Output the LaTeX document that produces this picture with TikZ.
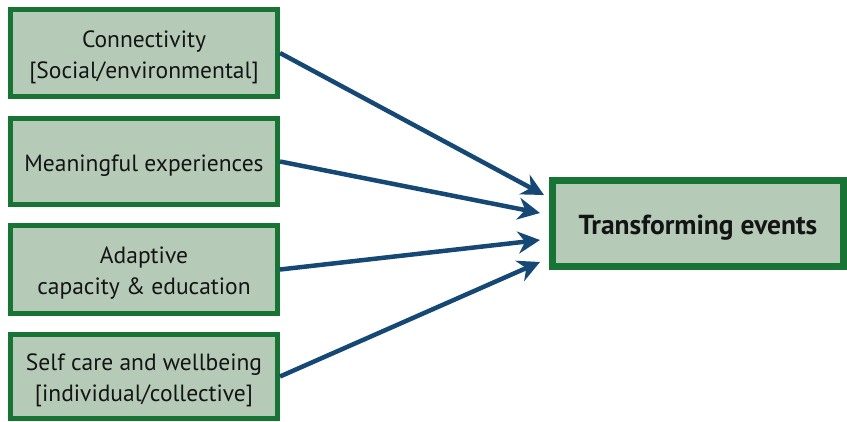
\documentclass[tikz,border=0pt]{standalone}
\usepackage{fontspec}
\setmainfont{PT Sans}
\usetikzlibrary{arrows.meta,calc}
\definecolor{boxfill}{RGB}{181,203,184}
\definecolor{boxline}{RGB}{24,116,52}
\definecolor{arrowblue}{RGB}{22,72,118}
\definecolor{txt}{RGB}{20,20,20}
\tikzset{
  srcbox/.style={draw=boxline, fill=boxfill, line width=5pt, minimum width=267pt, inner sep=0pt},
  srclbl/.style={align=center, text=txt, inner sep=0pt, font=\fontsize{23.5}{31}\selectfont},
  tgtbox/.style={draw=boxline, fill=boxfill, line width=7pt, minimum width=291pt,
    minimum height=86pt, inner sep=0pt},
  tgtlbl/.style={text=txt, inner sep=0pt, font=\fontsize{27.5}{30}\selectfont\bfseries},
  arr/.style={draw=arrowblue, line width=4.5pt, -{Stealth[length=22pt,width=22pt,inset=7pt]}}
}
\begin{document}
\begin{tikzpicture}[x=1pt,y=-1pt]
\useasboundingbox (0,0) rectangle (847,421);
\node[srcbox, minimum height=87pt] (b1) at (144,53) {};
\node[srcbox, minimum height=86pt] (b2) at (144,161.5) {};
\node[srcbox, minimum height=88pt] (b3) at (144,269.5) {};
\node[srcbox, minimum height=84pt] (b4) at (144,376.5) {};
\node[tgtbox] (t) at (698,223.5) {};
\node[srclbl] (l1) at ($(b1.center)+(0,4)$) {Connectivity\\{}[Social/environmental]};
\node[srclbl] (l2) at ($(b2.center)+(0,4)$) {Meaningful experiences};
\node[srclbl] (l3) at ($(b3.center)+(0,4)$) {Adaptive\\capacity \& education};
\node[srclbl] (l4) at ($(b4.center)+(0,4)$) {Self care and wellbeing\\{}[individual/collective]};
\node[tgtlbl] (lt) at ($(t.center)+(0,4)$) {Transforming events};
\draw[arr] (b1.east) -- ($(t.west)+(-5,-28.5)$);
\draw[arr] (b2.east) -- ($(t.west)+(-9,-10.5)$);
\draw[arr] (b3.east) -- ($(t.west)+(-9,16.5)$);
\draw[arr] (b4.east) -- ($(t.west)+(-9,38.5)$);
\end{tikzpicture}
\end{document}
